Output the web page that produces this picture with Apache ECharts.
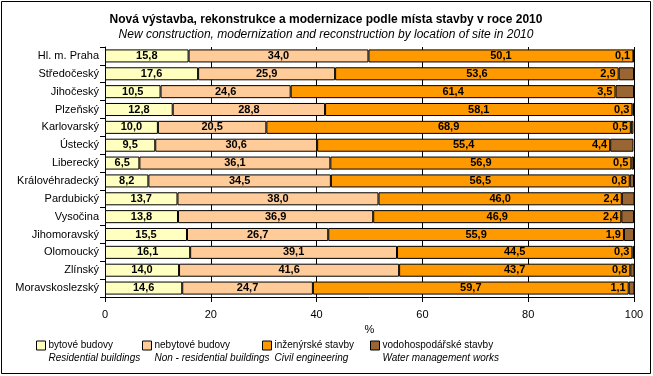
<!DOCTYPE html>
<html>
<head>
<meta charset="utf-8">
<script src="https://cdn.jsdelivr.net/npm/echarts@6/dist/echarts.min.js"></script>
<style>
    html, body {margin: 0; padding: 0; background: #fff;}
    #chart {width: 653px; height: 376px;}
</style>
</head>
<body>
<div id="chart"></div>
<script>
// kraje
var regions = ['Hl. m. Praha', 'Středočeský', 'Jihočeský', 'Plzeňský', 'Karlovarský', 'Ústecký',
    'Liberecký', 'Královéhradecký', 'Pardubický', 'Vysočina', 'Jihomoravský', 'Olomoucký',
    'Zlínský', 'Moravskoslezský'];

// podíly v %
var bytove = [15.8, 17.6, 10.5, 12.8, 10.0, 9.5, 6.5, 8.2, 13.7, 13.8, 15.5, 16.1, 14.0, 14.6];
var nebytove = [34.0, 25.9, 24.6, 28.8, 20.5, 30.6, 36.1, 34.5, 38.0, 36.9, 26.7, 39.1, 41.6, 24.7];
var inzenyrske = [50.1, 53.6, 61.4, 58.1, 68.9, 55.4, 56.9, 56.5, 46.0, 46.9, 55.9, 44.5, 43.7, 59.7];
var vodohosp = [0.1, 2.9, 3.5, 0.3, 0.5, 4.4, 0.5, 0.8, 2.4, 2.4, 1.9, 0.3, 0.8, 1.1];

var xTicks = [0, 20, 40, 60, 80, 100];

var seriesNames = ['bytové budovy', 'nebytové budovy', 'inženýrské stavby', 'vodohospodářské stavby'];
var seriesNamesEn = ['Residential buildings', 'Non - residential buildings', 'Civil engineering', 'Water management works'];
var colors = ['#FFFFC0', '#FFCC99', '#FF9900', '#996633'];

var fmt = function(p) {
    return p.value.toFixed(1).replace('.', ',');
};

var font = 'Arial, "Liberation Sans", sans-serif';
var chart = echarts.init(document.getElementById('chart'));

var series = [bytove, nebytove, inzenyrske, vodohosp].map(function(d, i) {
    return {
        name: seriesNames[i],
        type: 'bar',
        stack: 'total',
        data: d,
        barCategoryGap: '27%',
        itemStyle: {color: colors[i], borderColor: '#000', borderWidth: 1},
        label: {
            show: true,
            position: i === 3 ? 'left' : 'inside',
            distance: 3,
            formatter: fmt,
            color: '#000',
            fontFamily: font,
            fontWeight: 'bold',
            fontSize: 11
        }
    };
});

// legenda - každá položka zvlášť
var legendX = [36, 142, 262, 370];
var legends = seriesNames.map(function(n, i) {
    return {
        data: [n],
        left: legendX[i],
        top: 340,
        padding: 0,
        itemWidth: 9,
        itemHeight: 9,
        itemGap: 0,
        icon: 'rect',
        itemStyle: {borderColor: '#000', borderWidth: 1},
        formatter: function(name) {
            return '{a|' + name + '}\n{b|' + seriesNamesEn[i] + '}';
        },
        textStyle: {
            padding: [12, 0, 0, -2],
            rich: {
                a: {fontFamily: font, fontSize: 10, color: '#000', lineHeight: 13},
                b: {fontFamily: font, fontSize: 10, fontStyle: 'italic', color: '#000', lineHeight: 13}
            }
        }
    };
});

chart.setOption({
    animation: false,
    title: {
        text: 'Nová výstavba, rekonstrukce a modernizace podle místa stavby v roce 2010',
        subtext: 'New construction, modernization and reconstruction by location of site in 2010',
        left: 321,
        textAlign: 'center',
        top: 9,
        itemGap: 3,
        textStyle: {fontFamily: font, fontSize: 12, fontWeight: 'bold', color: '#000'},
        subtextStyle: {fontFamily: font, fontSize: 12, fontStyle: 'italic', color: '#000'}
    },
    legend: legends,
    grid: {left: 105, right: 19, top: 47, bottom: 79},
    xAxis: {
        type: 'value',
        min: 0,
        max: 100,
        interval: 20,
        name: '%',
        nameLocation: 'middle',
        nameGap: 14,
        nameTextStyle: {fontFamily: font, fontSize: 11, color: '#000'},
        axisLine: {show: true, lineStyle: {color: '#000'}},
        axisTick: {show: true, length: 5, lineStyle: {color: '#000'}},
        axisLabel: {fontFamily: font, fontSize: 11, color: '#000', margin: 12},
        splitLine: {show: true, lineStyle: {color: '#000', width: 1}}
    },
    yAxis: {
        type: 'category',
        data: regions,
        inverse: true,
        axisLine: {show: true, lineStyle: {color: '#000'}},
        axisTick: {show: true, length: 5, lineStyle: {color: '#000'}},
        axisLabel: {fontFamily: font, fontSize: 11, color: '#000', margin: 6}
    },
    graphic: [{
        type: 'rect',
        shape: {x: 1.5, y: 1.5, width: 649, height: 372},
        style: {fill: null, stroke: '#000', lineWidth: 1},
        silent: true
    }],
    series: series
});
</script>
</body>
</html>
